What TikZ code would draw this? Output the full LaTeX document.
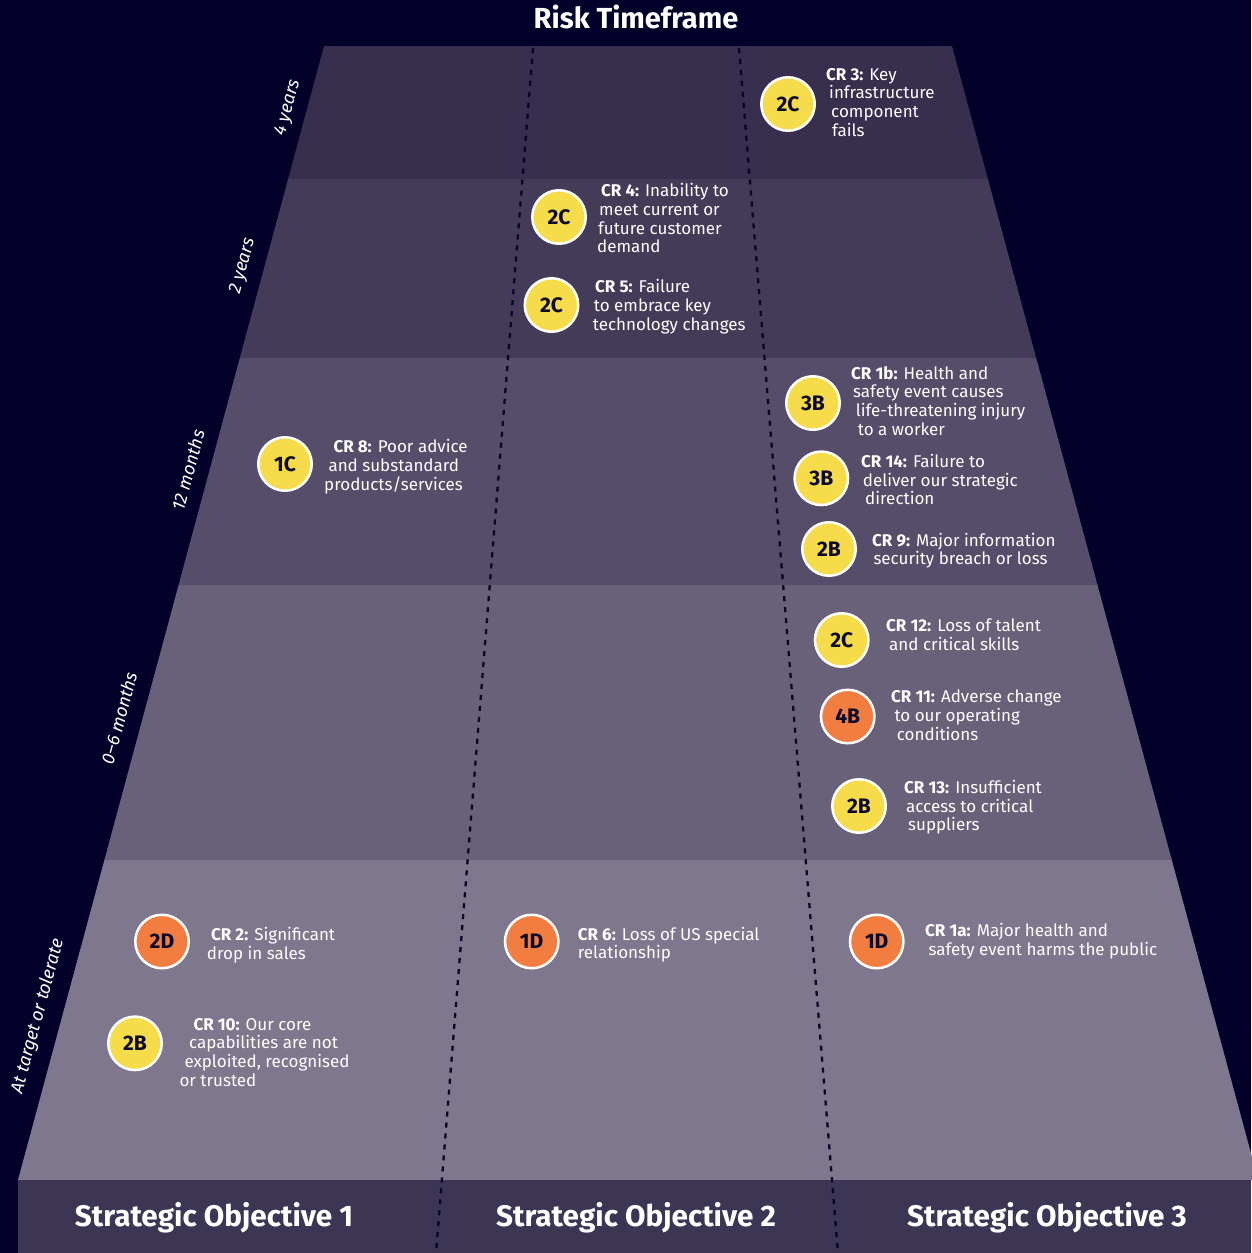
\documentclass[tikz,border=0pt]{standalone}
\usepackage{fontspec}
\setmainfont{Fira Sans}
\usetikzlibrary{positioning}
\tikzset{every node/.append style={align=center}}
\definecolor{navybg}{RGB}{3, 0, 42}
\definecolor{bandone}{RGB}{56, 46, 78}
\definecolor{bandtwo}{RGB}{68, 59, 88}
\definecolor{bandthree}{RGB}{85, 77, 105}
\definecolor{bandfour}{RGB}{105, 97, 121}
\definecolor{bandfive}{RGB}{126, 119, 142}
\definecolor{footbar}{RGB}{60, 53, 83}
\definecolor{riskyellow}{RGB}{246, 220, 74}
\definecolor{riskorange}{RGB}{242, 125, 64}
\definecolor{badgetext}{RGB}{12, 8, 40}
\definecolor{dotline}{RGB}{8, 4, 40}
\tikzset{
  badge/.style={circle, draw=white, line width=2.5pt, minimum size=53.5pt, inner sep=0pt,
    font=\fontsize{21}{21}\selectfont\bfseries, text=badgetext},
  yellowbadge/.style={badge, fill=riskyellow},
  orangebadge/.style={badge, fill=riskorange},
  % base anchor of a multi-line node sits on its last line
  risktext/.style={anchor=base west, align=left, inner sep=0pt, text=white,
    font=\fontsize{17}{18.7}\selectfont},
  sidelabel/.style={rotate=75, text=white, font=\fontsize{18}{20}\selectfont\itshape},
  objective/.style={anchor=base, text=white, font=\fontsize{29.7}{32}\selectfont\bfseries},
  divider/.style={dotline, line width=2.3pt, dash pattern=on 5pt off 6pt}
}

\begin{document}
\begin{tikzpicture}[x=1pt, y=-1pt]
    % Background
    \useasboundingbox (0,0) rectangle (1251,1253);
    \fill[navybg] (0,0) rectangle (1251,1253);

    % Timeframe bands
    \fill[bandone] (324,46) -- (952,46) -- (987.9,179) -- (288.1,179) -- cycle;
    \fill[bandtwo] (288.1,179) -- (987.9,179) -- (1036.2,358) -- (239.8,358) -- cycle;
    \fill[bandthree] (239.8,358) -- (1036.2,358) -- (1097.5,585) -- (178.6,585) -- cycle;
    \fill[bandfour] (178.6,585) -- (1097.5,585) -- (1171.8,860) -- (104.4,860) -- cycle;
    \fill[bandfive] (104.4,860) -- (1171.8,860) -- (1258.2,1180) -- (18,1180) -- cycle;

    % Objective bar
    \fill[footbar] (18,1180) rectangle (1251,1253);

    % Dividers between objectives
    \coordinate (divlefttop) at (533,48);
    \coordinate (divleftbot) at (436,1253);
    \coordinate (divrighttop) at (739,48);
    \coordinate (divrightbot) at (838,1253);
    \draw[divider] (divlefttop) -- (divleftbot);
    \draw[divider] (divrighttop) -- (divrightbot);

    % Title
    \node[anchor=base, text=white, font=\fontsize{29}{30}\selectfont\bfseries] (title) at (636,28.5) {Risk Timeframe};

    % Timeframe labels
    \node[sidelabel] (lblfour) at (288,108) {4 years};
    \node[sidelabel] (lbltwo) at (243,266) {2 years};
    \node[sidelabel] (lbltwelve) at (188,470) {12 months};
    \node[sidelabel] (lblsix) at (119,718) {0--6 months};
    \node[sidelabel] (lbltarget) at (38,1016) {At target or tolerate};

    % 4 years
    \node[yellowbadge] (cr3badge) at (788,104) {2C};
    \node[risktext] (cr3text) at (826,136.1) {\textbf{CR 3:} Key\\\hspace*{3pt}infrastructure\\\hspace*{5pt}component\\\hspace*{6pt}fails};

    % 2 years
    \node[yellowbadge] (cr4badge) at (559,217) {2C};
    \node[risktext] (cr4text) at (597,252.8) {\hspace*{4pt}\textbf{CR 4:} Inability to\\\hspace*{2pt}meet current or\\\hspace*{1pt}future customer\\demand};
    \node[yellowbadge] (cr5badge) at (551.5,305) {2C};
    \node[risktext] (cr5text) at (592.7,330.1) {\hspace*{2.3pt}\textbf{CR 5:} Failure\\\hspace*{1pt}to embrace key\\technology changes};

    % 12 months
    \node[yellowbadge] (cr8badge) at (285,464) {1C};
    \node[risktext] (cr8text) at (324,490.1) {\hspace*{9.3pt}\textbf{CR 8:} Poor advice\\\hspace*{4.3pt}and substandard\\products/services};
    \node[yellowbadge] (cr1bbadge) at (813,403) {3B};
    \node[risktext] (cr1btext) at (851,435.1) {\textbf{CR 1b:} Health and\\\hspace*{2pt}safety event causes\\\hspace*{4.7pt}life-threatening injury\\\hspace*{6.7pt}to a worker};
    \node[yellowbadge] (cr14badge) at (821.3,478.3) {3B};
    \node[risktext] (cr14text) at (861,504.7) {\textbf{CR 14:} Failure to\\\hspace*{1.7pt}deliver our strategic\\\hspace*{4pt}direction};
    \node[yellowbadge] (cr9badge) at (829,549) {2B};
    \node[risktext] (cr9text) at (872,564.7) {\textbf{CR 9:} Major information\\\hspace*{1.3pt}security breach or loss};

    % 0-6 months
    \node[yellowbadge] (cr12badge) at (841.7,640) {2C};
    \node[risktext] (cr12text) at (886,650.4) {\textbf{CR 12:} Loss of talent\\\hspace*{3pt}and critical skills};
    \node[orangebadge] (cr11badge) at (847.7,716.5) {4B};
    \node[risktext] (cr11text) at (891,740.1) {\textbf{CR 11:} Adverse change\\\hspace*{3.3pt}to our operating\\\hspace*{5.7pt}conditions};
    \node[yellowbadge] (cr13badge) at (859,806) {2B};
    \node[risktext] (cr13text) at (904,830.7) {\textbf{CR 13:} Insufficient\\\hspace*{2pt}access to critical\\\hspace*{4pt}suppliers};

    % At target or tolerate
    \node[orangebadge] (cr2badge) at (162,941.5) {2D};
    \node[risktext] (cr2text) at (206.7,959.4) {\hspace*{4.3pt}\textbf{CR 2:} Significant\\drop in sales};
    \node[yellowbadge] (cr10badge) at (135,1043.3) {2B};
    \node[risktext] (cr10text) at (179.3,1086.1) {\hspace*{14pt}\textbf{CR 10:} Our core\\\hspace*{9.7pt}capabilities are not\\\hspace*{5pt}exploited, recognised\\or trusted};
    \node[orangebadge] (cr6badge) at (531.7,941.5) {1D};
    \node[risktext] (cr6text) at (577.7,958.7) {\textbf{CR 6:} Loss of US special\\relationship};
    \node[orangebadge] (cr1abadge) at (876.7,941.5) {1D};
    \node[risktext] (cr1atext) at (925,955.4) {\textbf{CR 1a:} Major health and\\\hspace*{3.3pt}safety event harms the public};

    % Strategic objectives
    \node[objective] (objone) at (214,1226) {Strategic Objective 1};
    \node[objective] (objtwo) at (636,1226) {Strategic Objective 2};
    \node[objective] (objthree) at (1047,1226) {Strategic Objective 3};
\end{tikzpicture}
\end{document}
